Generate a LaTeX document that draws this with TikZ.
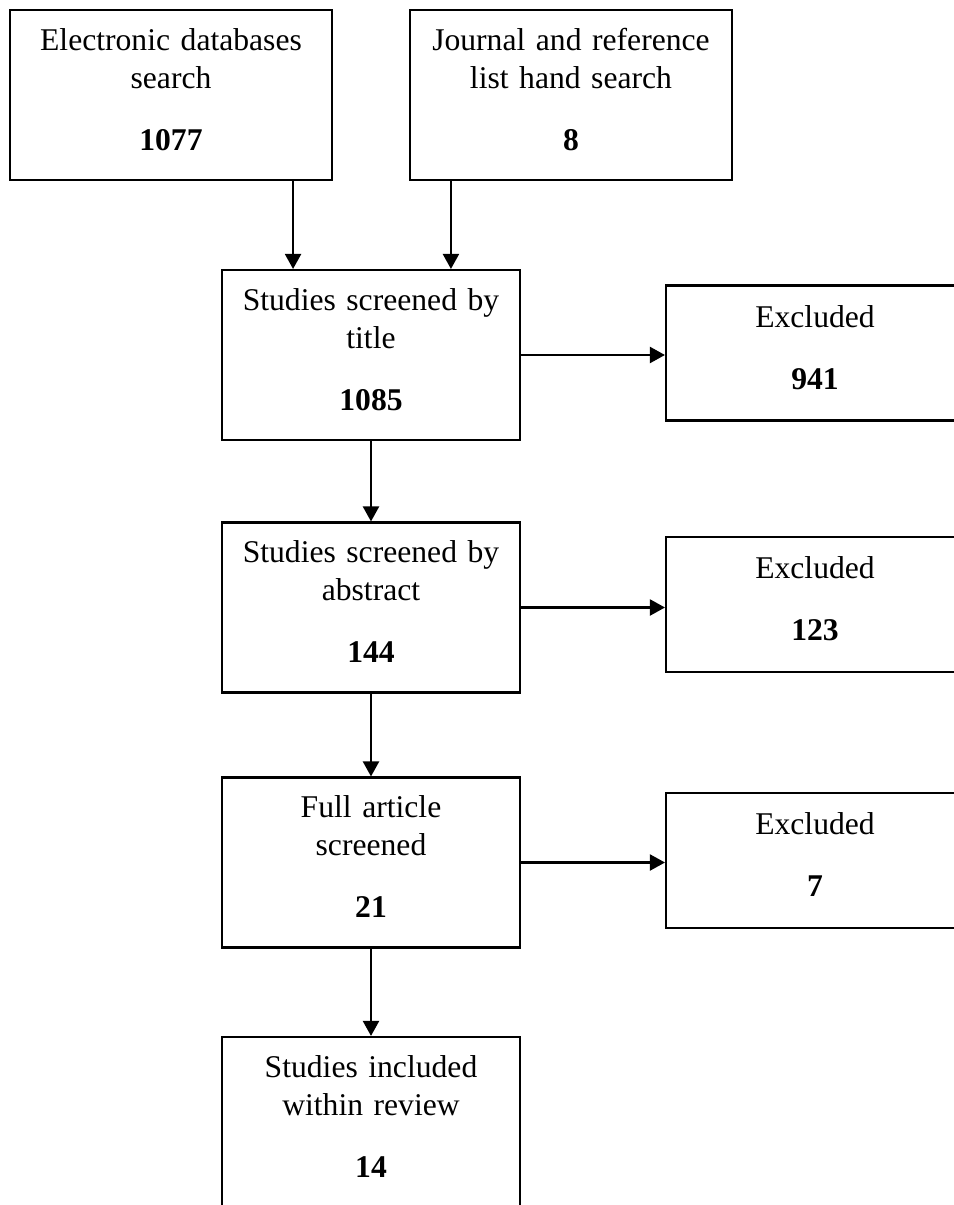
\documentclass[tikz,border=0pt]{standalone}
\usepackage{fontspec}
\setmainfont{Liberation Serif}
\usetikzlibrary{arrows.meta}

\newcommand{\stagetext}[2]{#1\\[0.48cm]\textbf{#2}\strut}

\begin{document}
\begin{tikzpicture}[
  box/.style={draw, line width=1.2pt, inner sep=0.1cm, align=center, text width=5.76cm,
    minimum height=3.4cm, font=\fontsize{18}{21.6}\selectfont},
  widebox/.style={box, text width=6.24cm},
  exbox/.style={box, minimum height=2.7cm},
  arrow/.style={-{Triangle[length=0.3cm,width=0.32cm]}, line width=1.2pt}
]

\useasboundingbox (0,0) rectangle (19.08,-24.10);
\clip (0,0) rectangle (19.08,-24.10);

\node[widebox] (search) at (3.42,-1.90) {\stagetext{Electronic databases\\search}{1077}};
\node[widebox] (hand) at (11.42,-1.90) {\stagetext{Journal and reference\\list hand search}{8}};

\node[box] (title) at (7.42,-7.10) {\stagetext{Studies screened by\\title}{1085}};
\node[exbox] (extitle) at (16.30,-7.06) {\stagetext{Excluded}{941}};

\node[box] (abstract) at (7.42,-12.15) {\stagetext{Studies screened by\\abstract}{144}};
\node[exbox] (exabstract) at (16.30,-12.09) {\stagetext{Excluded}{123}};

\node[box] (full) at (7.42,-17.25) {\stagetext{Full article\\screened}{21}};
\node[exbox] (exfull) at (16.30,-17.21) {\stagetext{Excluded}{7}};

\node[box] (review) at (7.42,-22.44) {\stagetext{Studies included\\within review}{14}};

\draw[arrow] ([xshift=-0.8cm]search.south east) -- ([xshift=-0.8cm]search.south east |- title.north);
\draw[arrow] ([xshift=0.84cm]hand.south west) -- ([xshift=0.84cm]hand.south west |- title.north);

\draw[arrow] (title) -- (abstract);
\draw[arrow] (abstract) -- (full);
\draw[arrow] (full) -- (review);

\draw[arrow] (title.east) -- (title.east -| extitle.west);
\draw[arrow] (abstract.east) -- (abstract.east -| exabstract.west);
\draw[arrow] (full.east) -- (full.east -| exfull.west);

\end{tikzpicture}
\end{document}
